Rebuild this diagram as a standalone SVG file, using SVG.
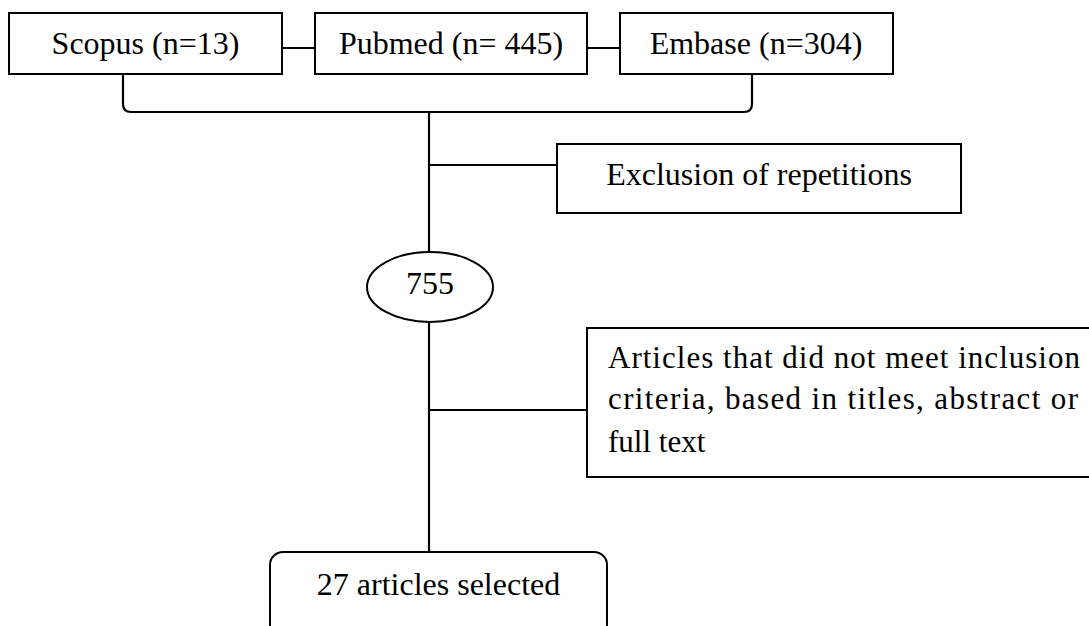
<svg xmlns="http://www.w3.org/2000/svg" width="1089" height="626" viewBox="0 0 1089 626">
<style>
.box{fill:#fff;stroke:#000;stroke-width:2}
.ln{fill:none;stroke:#000;stroke-width:2.2}
.t{font-family:"Liberation Serif","Times New Roman",serif;font-size:32px;fill:#000}
.c{text-anchor:middle}
.s{font-size:31px}
</style>
<rect width="1089" height="626" fill="#fff"/>
<g id="connectors">
<line class="ln" x1="282" y1="48" x2="315" y2="48"/>
<line class="ln" x1="587" y1="48" x2="620" y2="48"/>
<path class="ln" d="M123 74 V104 Q123 112 131 112 H744 Q752 112 752 104 V74"/>
<line class="ln" x1="429" y1="112" x2="429" y2="252"/>
<line class="ln" x1="429" y1="165" x2="557" y2="165"/>
<line class="ln" x1="429" y1="322" x2="429" y2="552"/>
<line class="ln" x1="429" y1="410" x2="587" y2="410"/>
</g>
<g id="scopus">
<rect class="box" x="9" y="13" width="273" height="61"/>
<text class="t c" x="145.5" y="54">Scopus (n=13)</text>
</g>
<g id="pubmed">
<rect class="box" x="315" y="13" width="272" height="61"/>
<text class="t c" x="451" y="54">Pubmed (n= 445)</text>
</g>
<g id="embase">
<rect class="box" x="620" y="13" width="273" height="61"/>
<text class="t c" x="756" y="54">Embase (n=304)</text>
</g>
<g id="exclusion">
<rect class="box" x="557" y="144" width="404" height="69"/>
<text class="t c" x="759" y="185">Exclusion of repetitions</text>
</g>
<g id="n755">
<ellipse class="box" cx="430" cy="287" rx="63" ry="35"/>
<text class="t c" x="430" y="294">755</text>
</g>
<g id="articles">
<rect class="box" x="587" y="328" width="510" height="149"/>
<text class="t s" x="608" y="368" textLength="472" lengthAdjust="spacing">Articles that did not meet inclusion</text>
<text class="t s" x="608" y="409" textLength="470" lengthAdjust="spacing">criteria, based in titles, abstract or</text>
<text class="t s" x="608" y="452">full text</text>
</g>
<g id="selected">
<rect class="box" x="270" y="552" width="337" height="100" rx="13"/>
<text class="t c" x="438.5" y="595">27 articles selected</text>
</g>
</svg>
